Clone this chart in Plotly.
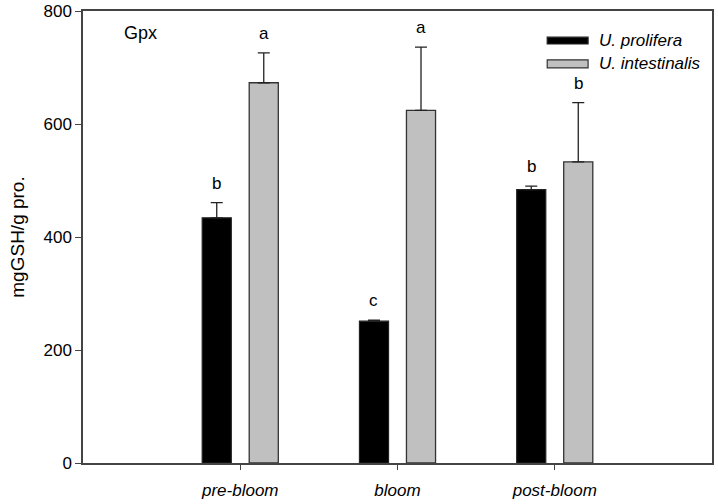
import plotly.graph_objects as go

# data
periods = ["pre-bloom", "bloom", "post-bloom"]
prolifera = [434, 251, 484]
prolifera_err = [27, 2, 6]
prolifera_letters = ["b", "c", "b"]
intestinalis = [673, 624, 533]
intestinalis_err = [53, 112, 105]
intestinalis_letters = ["a", "a", "b"]
y_ticks = [0, 200, 400, 600, 800]

FONT = "Liberation Sans, Arial, sans-serif"
AXIS = "#444444"
x_pos = list(range(len(periods)))
bar_w = 0.185

fig = go.Figure()

fig.add_trace(go.Bar(
    x=x_pos, y=prolifera, name="U. prolifera",
    width=bar_w, offset=-0.242,
    marker=dict(color="black", line=dict(color="#222222", width=1.2)),
    error_y=dict(type="data", array=prolifera_err, arrayminus=[0] * 3,
                 symmetric=False, color="#222222", thickness=1.3, width=6),
    showlegend=False,
))
fig.add_trace(go.Bar(
    x=x_pos, y=intestinalis, name="U. intestinalis",
    width=bar_w, offset=0.057,
    marker=dict(color="#c0c0c0", line=dict(color="#333333", width=1.3)),
    error_y=dict(type="data", array=intestinalis_err, arrayminus=[0] * 3,
                 symmetric=False, color="#222222", thickness=1.3, width=6),
    showlegend=False,
))

# significance letters above the error caps
for i in x_pos:
    fig.add_annotation(x=i - 0.242 + bar_w / 2, y=prolifera[i] + prolifera_err[i],
                       text=prolifera_letters[i], showarrow=False,
                       yanchor="bottom", yshift=8, font=dict(size=17, color="black", family=FONT))
    fig.add_annotation(x=i + 0.057 + bar_w / 2, y=intestinalis[i] + intestinalis_err[i],
                       text=intestinalis_letters[i], showarrow=False,
                       yanchor="bottom", yshift=8, font=dict(size=17, color="black", family=FONT))

# panel label
fig.add_annotation(x=0.062, y=0.951, xref="paper", yref="paper", text="Gpx",
                   showarrow=False, xanchor="left", yanchor="middle",
                   font=dict(size=18, color="black", family=FONT))

# hand-drawn legend to mimic the SigmaPlot style
legend_rows = [("U. prolifera", "black", "#222222", 0.942, 0.927),
               ("U. intestinalis", "#c0c0c0", "#333333", 0.892, 0.874)]
for label, fill, edge, y1, y0 in legend_rows:
    fig.add_shape(type="rect", xref="paper", yref="paper",
                  x0=0.738, x1=0.803, y0=y0, y1=y1,
                  fillcolor=fill, line=dict(color=edge, width=1.2))
    fig.add_annotation(x=0.817, y=(y0 + y1) / 2, xref="paper", yref="paper",
                       text="<i>" + label + "</i>", showarrow=False,
                       xanchor="left", yanchor="middle",
                       font=dict(size=17, color="black", family=FONT))

fig.update_layout(
    width=718, height=504,
    margin=dict(l=83, r=6, t=11, b=41),
    paper_bgcolor="white", plot_bgcolor="white",
    barmode="overlay",
    font=dict(family=FONT, size=17, color="black"),
    xaxis=dict(
        range=[-1, 3], tickmode="array", tickvals=x_pos,
        ticktext=["<i>" + p + "</i>" for p in periods],
        ticks="outside", ticklen=5, tickcolor=AXIS, tickwidth=1.2,
        ticklabelstandoff=6,
        showline=True, linecolor=AXIS, linewidth=1.5, mirror=True,
        showgrid=False, zeroline=False, automargin=False,
        tickfont=dict(size=17, family=FONT),
    ),
    yaxis=dict(
        range=[0, 800], tickmode="array", tickvals=y_ticks,
        ticks="outside", ticklen=6, tickcolor=AXIS, tickwidth=1.2,
        showline=True, linecolor=AXIS, linewidth=1.5, mirror=True,
        showgrid=False, zeroline=False, automargin=False,
        title=dict(text="mgGSH/g pro.", font=dict(size=19, family=FONT), standoff=14),
        tickfont=dict(size=17, family=FONT),
    ),
)

# drop the default page margin so the figure fills the window exactly
fig.write_html("out.html", config={"displayModeBar": False},
               post_script="document.body.style.margin = '0';")
